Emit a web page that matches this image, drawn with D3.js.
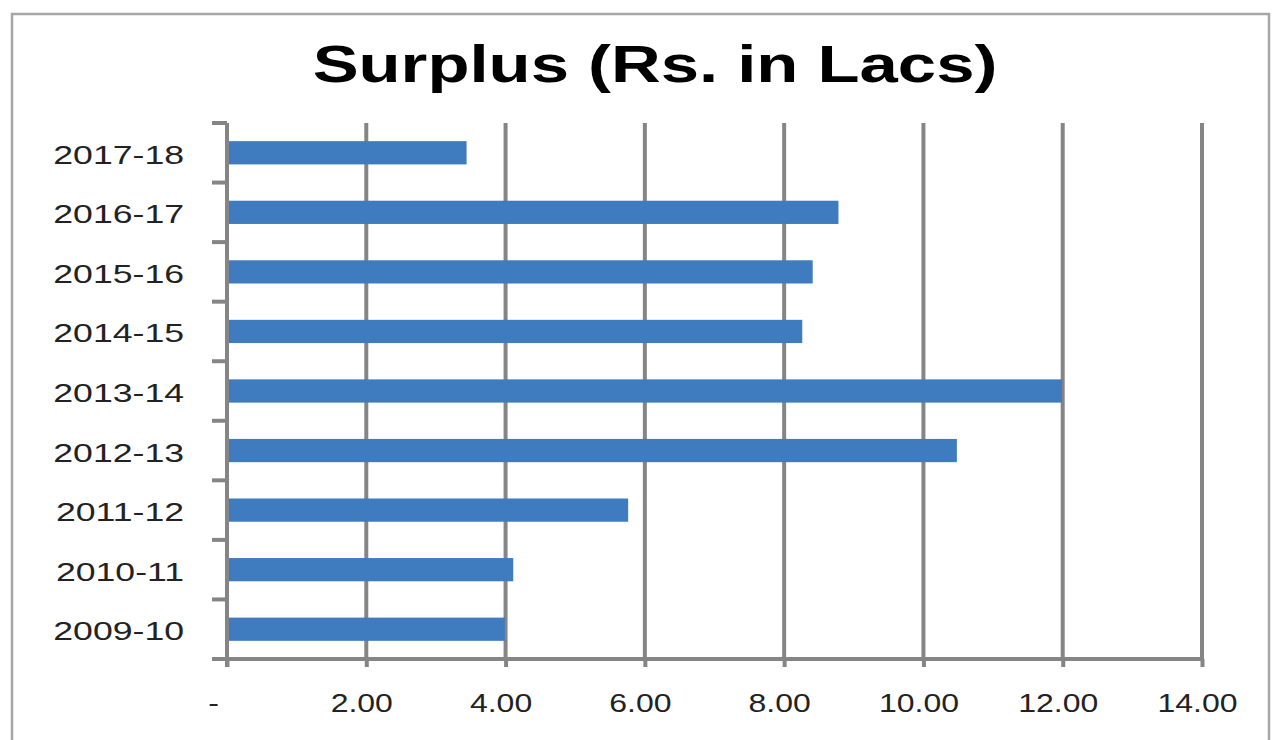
<!DOCTYPE html>
<html><head><meta charset="utf-8">
<script src="https://cdn.jsdelivr.net/npm/d3@7"></script>
<style>html,body{margin:0;padding:0;background:#fff;overflow:hidden}</style>
</head><body>
<svg id="c" width="1282" height="740"></svg>
<script>
const categories = ["2017-18","2016-17","2015-16","2014-15","2013-14","2012-13","2011-12","2010-11","2009-10"];
const values = [3.44, 8.78, 8.41, 8.26, 11.99, 10.48, 5.76, 4.11, 3.99];
const xTicks = [0, 2, 4, 6, 8, 10, 12, 14];
const title = "Surplus (Rs. in Lacs)";

(function () {
const svg = d3.select("#c");
const SX = 1.35; // horizontal stretch of the reference image
const gridColor = "#858585";

svg.append("rect").attr("x", 12).attr("y", 14).attr("width", 1257).attr("height", 740)
  .attr("fill", "#fff").attr("stroke", "#a6a6a6").attr("stroke-width", 2.5);

const pLeft = 227, pRight = 1202, pTop = 123, pBottom = 659;
const x = d3.scaleLinear().domain([0, 14]).range([pLeft, pRight]);
const y = d3.scaleBand().domain(categories).range([pTop, pBottom]).paddingInner(0.61).paddingOuter(0.305);
const yb = d3.scaleBand().domain(categories).range([pTop, pBottom]);

// title
svg.append("text").attr("transform", `translate(655,82) scale(${SX},1)`)
  .attr("text-anchor", "middle").attr("font-family", "Liberation Sans, Arial, sans-serif")
  .attr("font-weight", "bold").attr("font-size", 51).attr("fill", "#000").text(title);

// gridlines
svg.append("g").selectAll("line").data(xTicks.slice(1)).join("line")
  .attr("x1", d => x(d)).attr("x2", d => x(d)).attr("y1", pTop).attr("y2", pBottom)
  .attr("stroke", gridColor).attr("stroke-width", 4);

// bars
svg.append("g").selectAll("rect").data(values).join("rect")
  .attr("x", x(0)).attr("y", (d, i) => y(categories[i]))
  .attr("width", d => x(d) - x(0)).attr("height", y.bandwidth())
  .attr("fill", "#3f7bbf");

// x axis
const xAxis = d3.axisBottom(x).tickValues(xTicks).tickSize(8).tickPadding(0)
  .tickFormat(d => d === 0 ? "-" : d3.format(".2f")(d));
const gx = svg.append("g").attr("transform", `translate(0,${pBottom})`).call(xAxis);
gx.select(".domain").remove();
gx.append("line").attr("x1", 212).attr("x2", pRight + 2).attr("y1", 0).attr("y2", 0)
  .attr("stroke", gridColor).attr("stroke-width", 4);
gx.selectAll(".tick line").attr("stroke", gridColor).attr("stroke-width", 4);
gx.selectAll(".tick text").each(function(d) {
  const t = d3.select(this);
  t.attr("y", null).attr("dy", null)
   .attr("transform", `translate(${d === 0 ? -14 : -5},53) scale(1.28,1)`)
   .attr("font-family", "Liberation Sans, Arial, sans-serif").attr("font-size", 25).attr("fill", "#222");
});

// y axis
const gy = svg.append("g").attr("transform", `translate(${pLeft},0)`);
gy.append("line").attr("x1", 0).attr("x2", 0).attr("y1", pTop).attr("y2", pBottom + 8)
  .attr("stroke", gridColor).attr("stroke-width", 4);
const bounds = categories.map(c => yb(c)).concat([pBottom]);
gy.selectAll("line.tk").data(bounds).join("line").attr("class", "tk")
  .attr("x1", -15).attr("x2", 0).attr("y1", d => d).attr("y2", d => d)
  .attr("stroke", gridColor).attr("stroke-width", 4);
gy.selectAll("text").data(categories).join("text")
  .attr("transform", d => `translate(-43,${yb(d) + yb.bandwidth() / 2 + 11}) scale(1.37,1)`)
  .attr("text-anchor", "end").attr("font-family", "Liberation Sans, Arial, sans-serif")
  .attr("font-size", 26).attr("fill", "#222").text(d => d);
})();
</script>
</body></html>
